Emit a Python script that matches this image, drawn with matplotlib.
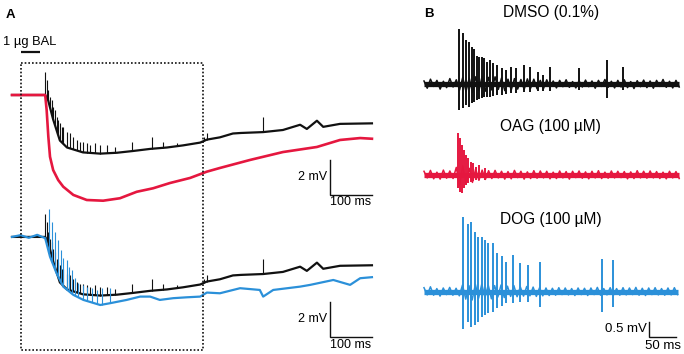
import numpy as np
import matplotlib.pyplot as plt

plt.rcParams['font.family'] = ['Liberation Sans', 'DejaVu Sans']

BLACK = '#111111'
RED = '#e5173f'
BLUE = '#2b90d9'

# ---- A: membrane potential after 1 ug BAL (time in ms, voltage in mV) ----
# control (DMSO) trace, shown in both pairs
ctrl_t = [0, 79, 86, 98, 114, 131, 169, 210, 250, 288, 329, 369, 407, 448, 464,
          495, 526, 545, 598, 645, 686, 702, 726, 741, 781, 857]
ctrl_v = [0, 0, -0.3, -1.4, -2.6, -3.0, -3.28, -3.35, -3.3, -3.2, -3.08, -3.0,
          -2.88, -2.72, -2.55, -2.42, -2.2, -2.17, -2.12, -2.0, -1.7, -1.94,
          -1.47, -1.82, -1.65, -1.62]
ctrl_spk_t = [79, 82.5, 86.5, 90.5, 94.5, 98.5, 102.5, 106.5, 110, 114, 118, 122,
              130, 138, 146, 154, 162, 170, 178, 186, 198, 210, 226, 245, 285,
              333, 360, 392, 456, 464, 598]
ctrl_spk_v = [1.31, 0.86, 0.29, -0.11, -0.29, -0.69, -0.86, -1.26, -1.43, -1.6,
              -1.83, -1.83, -2.11, -2.17, -2.4, -2.57, -2.69, -2.69, -2.74, -2.86,
              -2.74, -2.86, -2.86, -2.97, -2.69, -2.4, -2.69, -2.74, -2.4, -2.17,
              -1.26]

# OAG
oag_t = [0, 79, 82.5, 86.5, 90.5, 98, 110, 122, 146, 178, 217, 257, 297, 336,
         376, 424, 464, 495, 567, 645, 726, 781, 829, 857]
oag_v = [0, 0, -0.86, -2.38, -3.53, -4.29, -4.86, -5.24, -5.71, -6.0, -6.04,
         -5.9, -5.53, -5.33, -5.03, -4.74, -4.38, -4.17, -3.71, -3.26, -2.97,
         -2.57, -2.46, -2.5]

# DOG
dog_t = [0, 20, 40, 60, 79, 90.5, 106, 122, 146, 170, 210, 233, 273, 305, 329,
         352, 384, 416, 448, 464, 495, 543, 590, 598, 622, 686, 710, 765, 805,
         829, 857]
dog_v = [0, 0.1, -0.05, 0.12, -0.07, -1.13, -2.07, -2.84, -3.31, -3.6, -3.89,
         -3.79, -3.6, -3.41, -3.41, -3.6, -3.5, -3.45, -3.41, -3.18, -3.22, -2.93,
         -3.03, -3.41, -3.03, -2.84, -2.74, -2.46, -2.74, -2.36, -2.3]
dog_spk_t = [88, 96, 102.5, 110, 116, 122, 130, 136, 142, 150, 158, 170, 178,
             190, 202, 214, 233]
dog_spk_v = [1.58, 0.87, 0.3, -0.17, -0.74, -1.2, -1.31, -1.7, -1.89, -2.34,
             -2.63, -2.74, -2.84, -2.91, -3.03, -2.91, -2.91]

# ---- B: extracellular unit recordings (ms, mV) ----
unit_names = ['DMSO (0.1%)', 'OAG (100 µM)', 'DOG (100 µM)']
unit_end = [477, 477, 474]

dmso_spk_t = [65, 72, 78.5, 85, 89, 94, 98.5, 103.5, 108.5, 113, 118, 123.5,
              129.5, 137, 145, 153, 162, 172, 187, 199, 214, 223, 235.5, 290,
              342.5, 371.5]
dmso_spk_top = [1.82, 1.69, 1.47, 1.41, 1.24, 1.16, 0.93, 0.91, 0.91, 0.86, 0.74,
                0.80, 0.69, 0.63, 0.52, 0.47, 0.58, 0.52, 0.63, 0.58, 0.41, 0.30,
                0.58, 0.52, 0.80, 0.58]
dmso_spk_bot = [-0.87, -0.81, -0.70, -0.78, -0.64, -0.59, -0.53, -0.51, -0.48,
                -0.44, -0.44, -0.42, -0.40, -0.37, -0.37, -0.33, -0.31, -0.29,
                -0.26, -0.26, -0.23, -0.23, -0.23, -0.20, -0.48, -0.20]
dmso_noise = [0.10, -0.14, 0.16, -0.08, 0.12, -0.17, 0.09, -0.12, 0.18, -0.10,
              0.14, -0.20, 0.22, -0.25, 0.20, -0.28, 0.24, -0.22, 0.26, -0.24,
              0.22, -0.20, 0.24, -0.18, 0.20, -0.22, 0.16, -0.20, 0.18, -0.17,
              0.15, -0.18, 0.17, -0.14, 0.16, -0.16, 0.12, -0.15, 0.14, -0.12,
              0.10, -0.13, 0.12, -0.09, 0.14, -0.11, 0.08, -0.13, 0.11, -0.10,
              0.13, -0.09, 0.10, -0.14, 0.12, -0.08, 0.15, -0.11, 0.09, -0.13,
              0.12, -0.10, 0.14, -0.12, 0.08, -0.15, 0.11, -0.09, 0.13, -0.12,
              0.10, -0.14, 0.12, -0.08, 0.15, -0.11, 0.09, -0.13, 0.12, -0.10]

oag_spk_t = [63, 67.3, 70.5, 74.8, 78.5, 82.8, 87.3, 92.1, 97.2, 103.4, 114]
oag_spk_top = [1.39, 1.22, 1.0, 0.83, 0.67, 0.56, 0.44, 0.39, 0.28, 0.33, 0.22]
oag_spk_bot = [-0.43, -0.56, -0.61, -0.44, -0.33, -0.28, -0.22, -0.2, -0.18,
               -0.18, -0.17]
oag_noise = [0.12, -0.10, 0.15, -0.13, 0.09, -0.14, 0.16, -0.11, 0.13, -0.12,
             0.25, -0.35, 0.30, -0.30, 0.22, -0.25, 0.20, -0.18, 0.16, -0.15,
             0.14, -0.12, 0.15, -0.10, 0.12, -0.14, 0.11, -0.13, 0.15, -0.09,
             0.12, -0.14, 0.10, -0.12, 0.14, -0.11, 0.13, -0.10, 0.12, -0.13,
             0.09, -0.12, 0.13, -0.10, 0.11, -0.14, 0.12, -0.09, 0.13, -0.11,
             0.10, -0.13, 0.12, -0.10, 0.14, -0.12, 0.09, -0.11, 0.13, -0.10,
             0.12, -0.09, 0.11, -0.13, 0.10, -0.12, 0.14, -0.10, 0.12, -0.11,
             0.13, -0.10, 0.11, -0.12, 0.09, -0.13, 0.12, -0.10, 0.11, -0.12]

dog_unit_t = [73.5, 81.7, 87.9, 95.3, 101.5, 107.9, 114, 120.2, 128.4, 135.9,
              145.2, 153.3, 166.9, 179.4, 195, 216.8, 332.1, 353.8]
dog_unit_top = [2.48, 2.26, 2.33, 2.0, 1.83, 1.81, 1.72, 1.63, 1.61, 1.3, 1.19,
                1.0, 1.22, 0.95, 0.89, 1.0, 1.08, 1.06]
dog_unit_bot = [-1.25, -1.0, -1.19, -1.11, -1.0, -0.83, -0.78, -0.7, -0.67,
                -0.55, -0.48, -0.39, -0.39, -0.33, -0.33, -0.5, -0.67, -0.5]
dog_noise = [0.13, -0.11, 0.16, -0.12, 0.10, -0.15, 0.12, -0.10, 0.14, -0.12,
             0.11, -0.14, 0.22, -0.25, 0.20, -0.28, 0.24, -0.22, 0.25, -0.20,
             0.22, -0.24, 0.20, -0.18, 0.22, -0.20, 0.18, -0.16, 0.20, -0.17,
             0.16, -0.15, 0.17, -0.14, 0.15, -0.16, 0.13, -0.14, 0.12, -0.13,
             0.11, -0.12, 0.13, -0.10, 0.12, -0.11, 0.10, -0.13, 0.12, -0.10,
             0.11, -0.13, 0.12, -0.10, 0.14, -0.12, 0.10, -0.11, 0.13, -0.12,
             0.10, -0.12, 0.13, -0.11, 0.12, -0.10, 0.14, -0.12, 0.11, -0.13,
             0.12, -0.10, 0.13, -0.11, 0.10, -0.12, 0.12, -0.11, 0.13, -0.10]


def draw_trace(ax, t, v, offset, color, lw, spk_t=None, spk_v=None):
    t = np.asarray(t, float)
    v = np.asarray(v, float) + offset
    ax.plot(t, v, color=color, lw=lw)
    if spk_t:
        foot = np.interp(spk_t, t, v)
        ax.vlines(spk_t, foot, np.asarray(spk_v) + offset, color=color, lw=0.8)


def scale_bar(ax, t0, v0, dt, dv, t_label, v_label, size, gap):
    ax.plot([t0, t0, t0 + dt], [v0 + dv, v0, v0], color=BLACK, lw=1.0,
            solid_joinstyle='miter')
    ax.text(t0 - dt * 0.07, v0 + dv * 0.5, v_label, ha='right', va='center',
            fontsize=size)
    ax.text(t0 + dt * 0.5, v0 - gap, t_label, ha='center', va='center',
            fontsize=size)


fig = plt.figure(figsize=(6.84, 3.54), dpi=100)

# panel A: 0.42 px per ms, 17.5 px per mV
axA = fig.add_axes([0, 0, 1, 1])
axA.set_xlim(-12 / 0.42, 672 / 0.42)
axA.set_ylim(-259 / 17.5, 95 / 17.5)
axA.axis('off')

low = -8.11  # second pair offset
draw_trace(axA, ctrl_t, ctrl_v, 0, BLACK, 1.6, ctrl_spk_t, ctrl_spk_v)
draw_trace(axA, oag_t, oag_v, 0, RED, 1.9)
draw_trace(axA, ctrl_t, ctrl_v, low, BLACK, 1.6, ctrl_spk_t, ctrl_spk_v)
draw_trace(axA, dog_t, dog_v, low, BLUE, 1.6, dog_spk_t, dog_spk_v)

# dotted window
axA.plot([21.4, 454.8, 454.8, 21.4, 21.4], [1.83, 1.83, -14.57, -14.57, 1.83],
         color=BLACK, lw=1.2, ls=(0, (1, 1.2)))
# BAL application
axA.plot([20.7, 66.7], [2.47, 2.47], color=BLACK, lw=1.6, solid_capstyle='butt')
axA.text(43, 3.0, '1 µg BAL', ha='center', va='center', fontsize=9.3)

scale_bar(axA, 757, -5.7, 100, 2, '100 ms', '2 mV', 9, 0.4)
scale_bar(axA, 757, low - 5.7, 100, 2, '100 ms', '2 mV', 9, 0.5)

# panel B: 0.535 px per ms, 30 px per mV
axB = fig.add_axes([0, 0, 1, 1])
axB.set_xlim(-424 / 0.535, 260 / 0.535)
axB.set_ylim(-270 / 30, 84 / 30)
axB.axis('off')

unit_offsets = [0, -3.03, -6.92]
unit_colors = [BLACK, RED, BLUE]
title_h = [2.38, 1.63, 2.39]
spikes = [(dmso_spk_t, dmso_spk_top, dmso_spk_bot, dmso_noise),
          (oag_spk_t, oag_spk_top, oag_spk_bot, oag_noise),
          (dog_unit_t, dog_unit_top, dog_unit_bot, dog_noise)]
for name, end, off, c, th, (st, stop, sbot, nz) in zip(unit_names, unit_end,
                                                        unit_offsets, unit_colors,
                                                        title_h, spikes):
    axB.plot([0, end], [off, off], color=c, lw=3.8, solid_capstyle='butt')
    nt = np.linspace(0, end, len(nz))
    axB.plot(nt, np.add(nz, off), color=c, lw=1.1)
    axB.vlines(st, np.add(sbot, off), np.add(stop, off), color=c, lw=1.4)
    axB.text(237, off + th, name, ha='center', va='center', fontsize=11.2)

scale_bar(axB, 421, -8.42, 50, 0.5, '50 ms', '0.5 mV', 9.5, 0.31)

fig.text(10 / 684, 1 - 14.5 / 354, 'A', fontweight='bold', fontsize=9.5,
         ha='center', va='center')
fig.text(429 / 684, 1 - 14 / 354, 'B', fontweight='bold', fontsize=9.5,
         ha='center', va='center')

fig.savefig('out.png', dpi=100)
